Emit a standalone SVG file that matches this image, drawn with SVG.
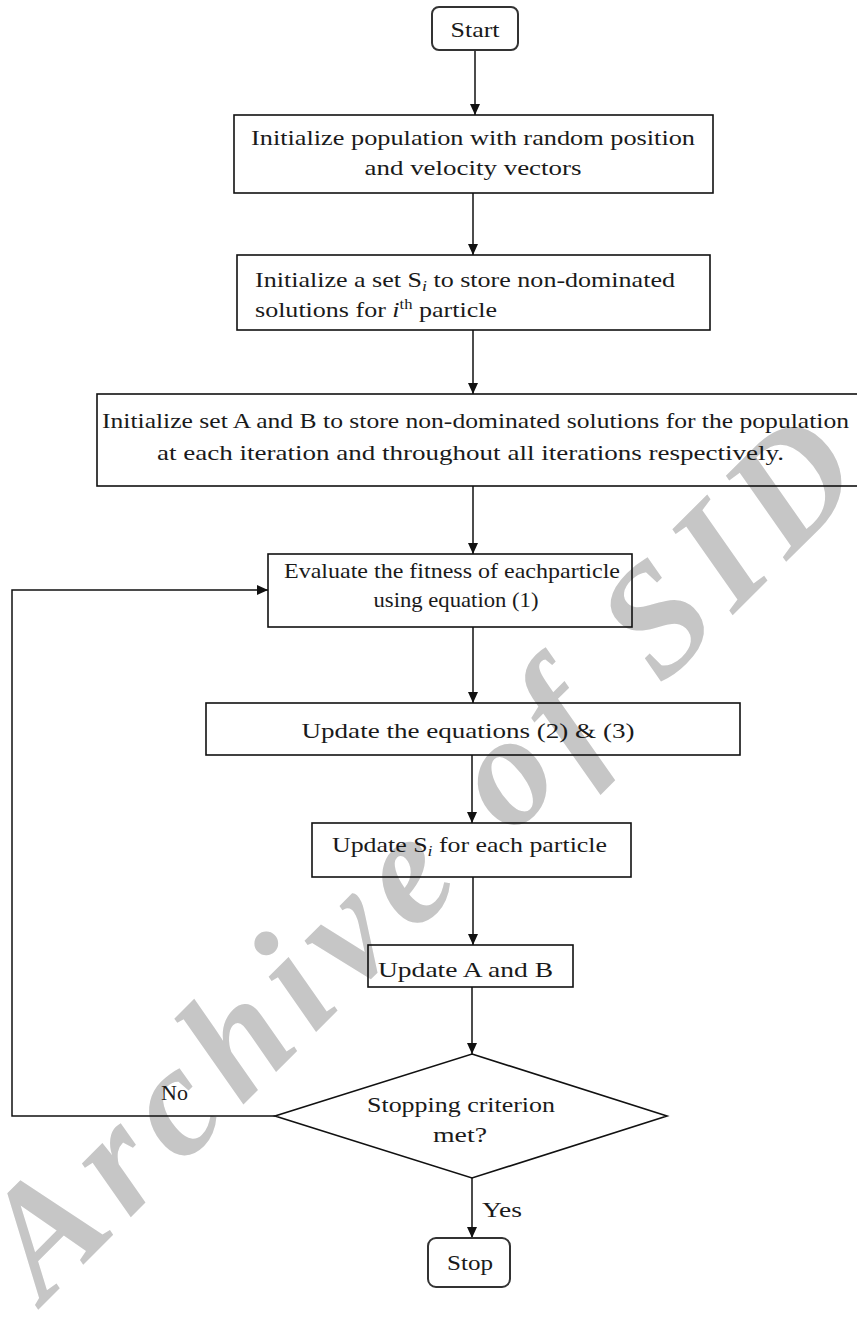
<svg xmlns="http://www.w3.org/2000/svg" width="857" height="1320" viewBox="0 0 857 1320">
<style>
.box{fill:none;stroke:#111;stroke-width:1.6}
.term{fill:none;stroke:#333;stroke-width:2}
.conn{fill:none;stroke:#111;stroke-width:1.5}
text{font-family:"Liberation Serif","Times New Roman",serif;font-size:22px;fill:#1a1a1a}
.c{text-anchor:middle}
.wm{font-family:"Liberation Serif","Times New Roman",serif;font-weight:bold;font-style:italic;font-size:158px;fill:#c6c6c6}
.sub{font-style:italic;font-size:15px}
.sup{font-size:14px}
</style>
<defs>
<marker id="ah" markerUnits="userSpaceOnUse" markerWidth="12" markerHeight="10" refX="11" refY="5" orient="auto">
<path d="M0,0 L11,5 L0,10 z" fill="#111"/>
</marker>
</defs>
<rect width="857" height="1320" fill="#fff"/>
<text class="wm" x="44" y="1304" transform="rotate(-45 44 1304)" textLength="1165" lengthAdjust="spacing">Archive of SID</text>
<g id="connectors">
<line class="conn" x1="475" y1="50" x2="475" y2="115" marker-end="url(#ah)"/>
<line class="conn" x1="473" y1="193" x2="473" y2="255" marker-end="url(#ah)"/>
<line class="conn" x1="473" y1="330" x2="473" y2="394" marker-end="url(#ah)"/>
<line class="conn" x1="473" y1="486" x2="473" y2="554" marker-end="url(#ah)"/>
<line class="conn" x1="473" y1="627" x2="473" y2="703" marker-end="url(#ah)"/>
<line class="conn" x1="472" y1="755" x2="472" y2="823" marker-end="url(#ah)"/>
<line class="conn" x1="473" y1="877" x2="473" y2="945" marker-end="url(#ah)"/>
<line class="conn" x1="472" y1="987" x2="472" y2="1054" marker-end="url(#ah)"/>
<line class="conn" x1="472" y1="1178" x2="472" y2="1238" marker-end="url(#ah)"/>
<polyline class="conn" points="275,1116 12,1116 12,590 268,590" marker-end="url(#ah)"/>
<text x="161" y="1100">No</text>
<text x="482" y="1217" textLength="40" lengthAdjust="spacingAndGlyphs">Yes</text>
</g>
<g id="start">
<rect class="term" x="432" y="7" width="86" height="43" rx="7"/>
<text class="c" x="475" y="37" textLength="49" lengthAdjust="spacingAndGlyphs">Start</text>
</g>
<g id="init-population">
<rect class="box" x="234" y="115" width="479" height="78"/>
<text class="c" x="473" y="145" textLength="444" lengthAdjust="spacingAndGlyphs">Initialize population with random position</text>
<text class="c" x="473" y="175" textLength="217" lengthAdjust="spacingAndGlyphs">and velocity vectors</text>
</g>
<g id="init-si">
<rect class="box" x="237" y="255" width="473" height="75"/>
<text x="255" y="287" textLength="420" lengthAdjust="spacingAndGlyphs">Initialize a set S<tspan class="sub" dy="4">i</tspan><tspan dy="-4"> to store non-dominated</tspan></text>
<text x="255" y="317" textLength="242" lengthAdjust="spacingAndGlyphs">solutions for <tspan font-style="italic">i</tspan><tspan class="sup" dy="-8">th</tspan><tspan dy="8"> particle</tspan></text>
</g>
<g id="init-ab">
<rect class="box" x="97" y="394" width="780" height="92"/>
<text x="102" y="428" textLength="747" lengthAdjust="spacingAndGlyphs">Initialize set A and B to store non-dominated solutions for the population</text>
<text x="157" y="460" textLength="627" lengthAdjust="spacingAndGlyphs">at each iteration and throughout all iterations respectively.</text>
</g>
<g id="evaluate">
<rect class="box" x="268" y="554" width="364" height="73"/>
<text class="c" x="452" y="578" textLength="336" lengthAdjust="spacingAndGlyphs">Evaluate the fitness of eachparticle</text>
<text class="c" x="456" y="607" textLength="165" lengthAdjust="spacingAndGlyphs">using equation (1)</text>
</g>
<g id="update-eq">
<rect class="box" x="206" y="703" width="534" height="52"/>
<text class="c" x="468" y="738" textLength="333" lengthAdjust="spacingAndGlyphs">Update the equations (2) &amp; (3)</text>
</g>
<g id="update-si">
<rect class="box" x="312" y="823" width="319" height="54"/>
<text x="332" y="852" textLength="275" lengthAdjust="spacingAndGlyphs">Update S<tspan class="sub" dy="4">i</tspan><tspan dy="-4"> for each particle</tspan></text>
</g>
<g id="update-ab">
<rect class="box" x="368" y="945" width="205" height="42"/>
<text x="378" y="977" textLength="175" lengthAdjust="spacingAndGlyphs">Update A and B</text>
</g>
<g id="decision">
<polygon class="box" points="472,1054 667,1116 472,1178 275,1116"/>
<text class="c" x="461" y="1112" textLength="188" lengthAdjust="spacingAndGlyphs">Stopping criterion</text>
<text class="c" x="460" y="1142" textLength="54" lengthAdjust="spacingAndGlyphs">met?</text>
</g>
<g id="stop">
<rect class="term" x="428" y="1238" width="82" height="49" rx="8"/>
<text class="c" x="470" y="1270" textLength="46" lengthAdjust="spacingAndGlyphs">Stop</text>
</g>
</svg>
